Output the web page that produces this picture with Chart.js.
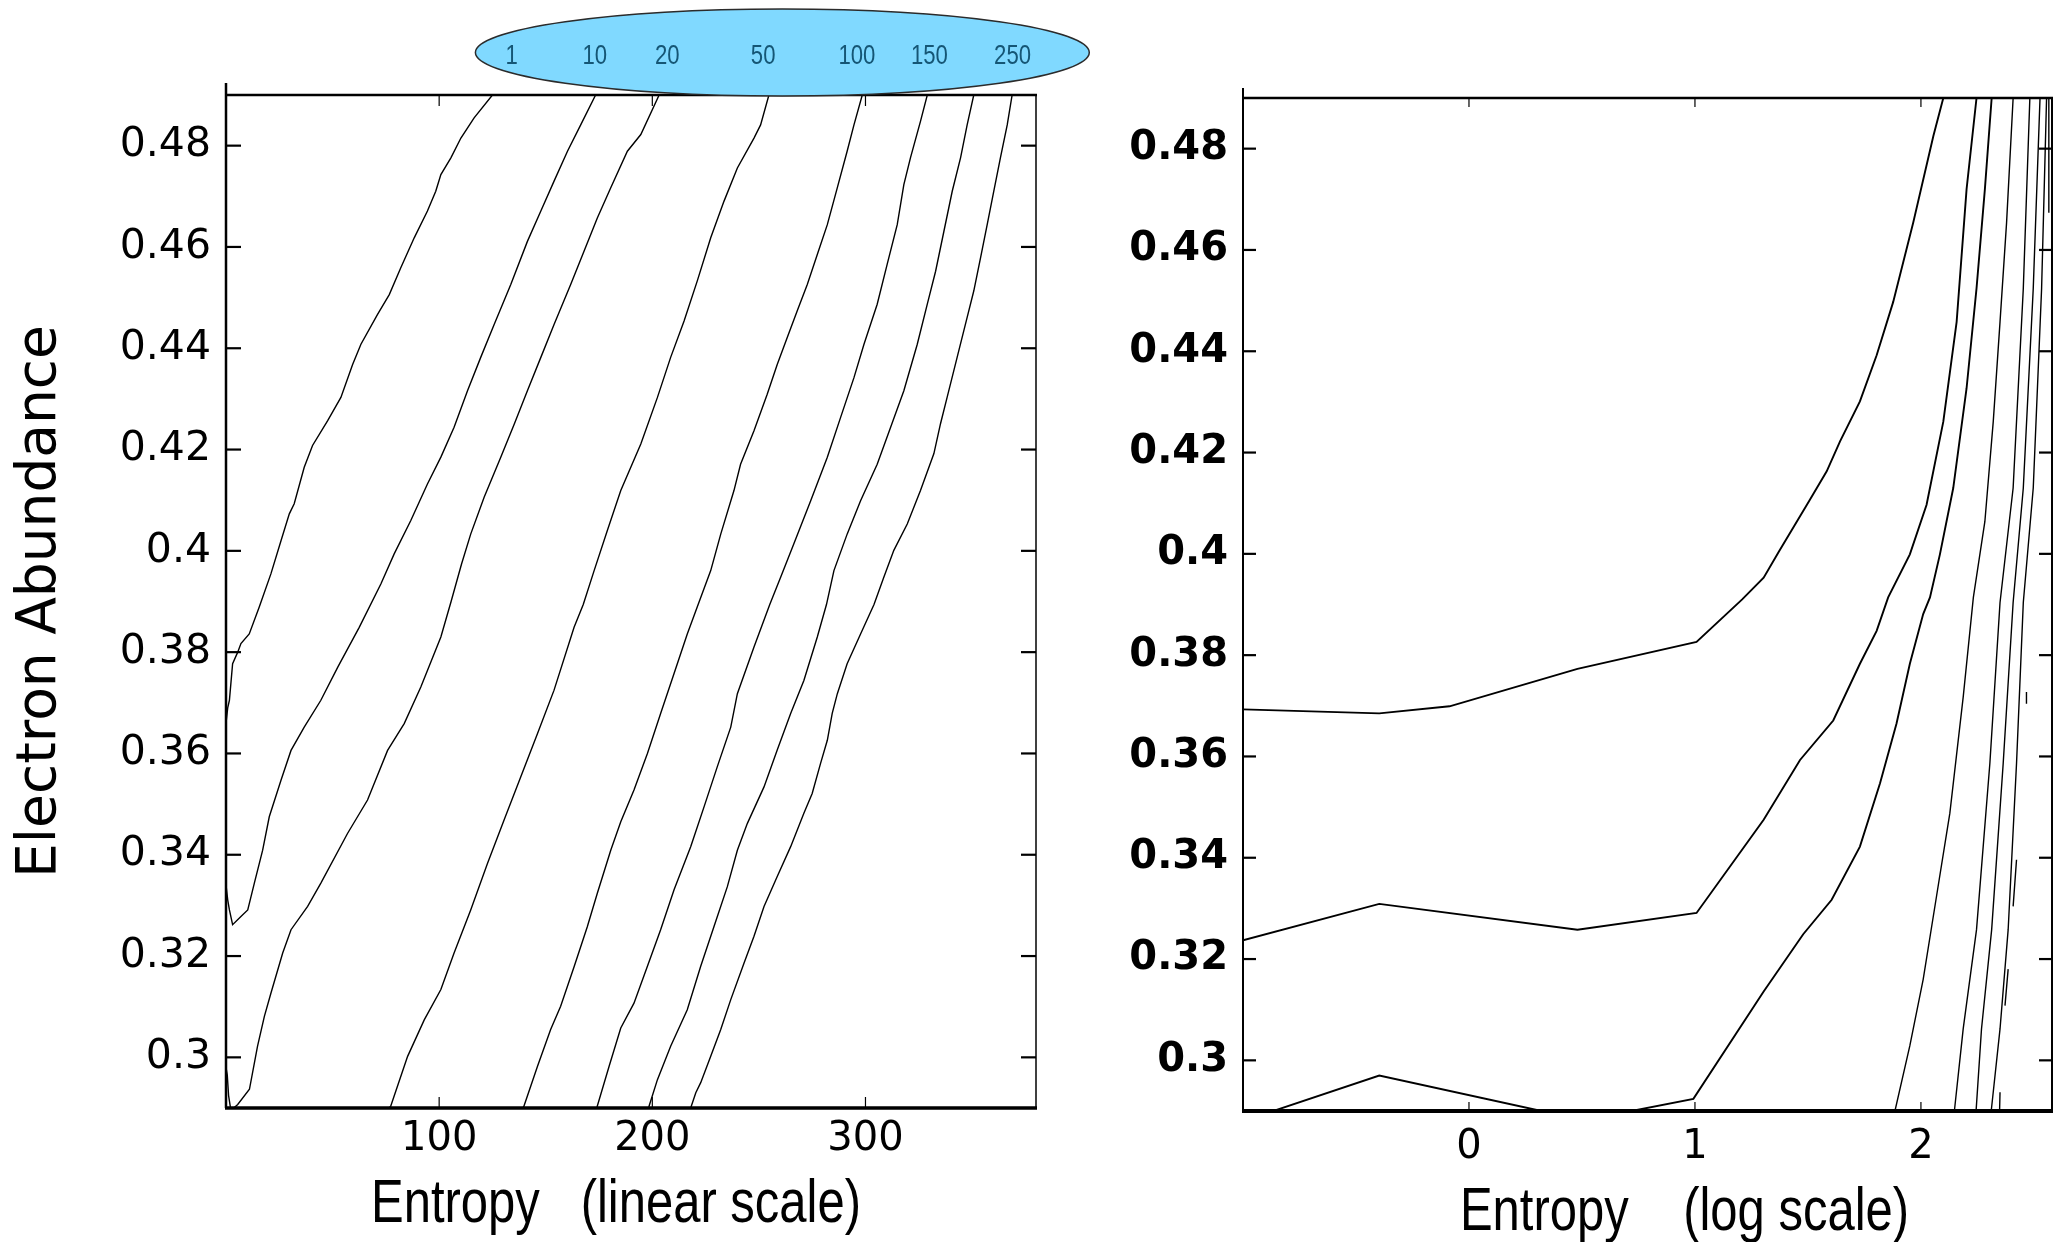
<!DOCTYPE html>
<html>
<head>
<meta charset="utf-8">
<title>Electron abundance vs entropy</title>
<script src="https://cdn.jsdelivr.net/npm/chart.js@4.4.1/dist/chart.umd.min.js"></script>
<style>
  html, body { margin: 0; padding: 0; background: #fff; }
  #wrap { position: relative; width: 2060px; height: 1242px; }
  .panel { position: absolute; top: 0; height: 1242px; }
  #left { left: 0; width: 1100px; }
  #right { left: 1100px; width: 960px; }
</style>
</head>
<body>
<div id="wrap">
  <div class="panel" id="left"><canvas id="linChart"></canvas></div>
  <div class="panel" id="right"><canvas id="logChart"></canvas></div>
</div>
<script>
// tick values
var yTicks = [0.3, 0.32, 0.34, 0.36, 0.38, 0.4, 0.42, 0.44, 0.46, 0.48];
var linTicks = [100, 200, 300];
var logTicks = [0, 1, 2];

// contour labels in the oval, and the entropy where each one sits
var contourLabels = ['1', '10', '20', '50', '100', '150', '250'];
var labelEntropy = [134, 173, 207, 252, 296, 330, 369];

// left panel: contours as [entropy, electron abundance]
var lin1 = [[125, 0.49], [116.4, 0.4855], [110.2, 0.4815], [105.5, 0.4776], [100.8, 0.4743], [98.4, 0.471], [94.5, 0.4671], [88.3, 0.4618], [82.0, 0.4559], [76.6, 0.4506], [71.1, 0.4467], [63.3, 0.4408], [59.4, 0.4368], [53.9, 0.4303], [47.7, 0.4257], [40.6, 0.4208], [36.7, 0.4165], [32.0, 0.4093], [29.7, 0.4073], [25.8, 0.402], [21.1, 0.3955], [15.6, 0.3889], [10.9, 0.3836], [7.0, 0.3817], [5.5, 0.38], [3.1, 0.3777], [1.6, 0.3705], [0.8, 0.369], [0, 0.366]];
var lin2 = [[173.4, 0.49], [166.4, 0.4841], [160.2, 0.4789], [153.9, 0.473], [147.7, 0.4671], [141.4, 0.4611], [133.6, 0.4526], [125.8, 0.4447], [119.5, 0.4382], [113.3, 0.4316], [107.0, 0.4244], [100.8, 0.4185], [94.5, 0.4132], [86.7, 0.406], [78.9, 0.3994], [72.7, 0.3935], [62.5, 0.3849], [52.5, 0.3771], [44.5, 0.3705], [36.7, 0.3652], [30.5, 0.3606], [25.8, 0.3547], [20.3, 0.3475], [17.2, 0.3409], [13.3, 0.3344], [10.2, 0.3291], [7.0, 0.3278], [3.1, 0.3262], [1.6, 0.3291], [0.8, 0.3311], [0, 0.334]];
var lin3 = [[203.2, 0.49], [194.6, 0.4822], [188.3, 0.4789], [180.5, 0.4717], [174.2, 0.4657], [168.0, 0.4592], [161.7, 0.4526], [153.9, 0.4447], [147.7, 0.4382], [141.4, 0.4316], [135.2, 0.425], [128.9, 0.4185], [121.1, 0.4106], [114.8, 0.4033], [110.5, 0.3974], [105.6, 0.39], [100.8, 0.383], [91.4, 0.3731], [83.6, 0.3659], [75.8, 0.3606], [66.4, 0.3508], [57.0, 0.3442], [44.5, 0.3344], [38.3, 0.3298], [30.5, 0.3252], [26.6, 0.3206], [21.1, 0.3127], [18.0, 0.3081], [14.8, 0.3022], [11.0, 0.2937], [5.5, 0.2907], [2.3, 0.2895], [1.2, 0.2925], [0.6, 0.2965], [0, 0.298]];
var lin4 = [[254.7, 0.49], [250.8, 0.4841], [247.7, 0.4815], [239.9, 0.4756], [233.6, 0.469], [227.4, 0.4618], [221.1, 0.4533], [214.9, 0.4454], [208.6, 0.4382], [202.4, 0.4303], [194.6, 0.4211], [185.2, 0.4119], [178.9, 0.404], [172.7, 0.3961], [167.6, 0.3894], [163.3, 0.3849], [153.9, 0.3725], [146.1, 0.3639], [138.3, 0.3554], [130.5, 0.3469], [122.7, 0.3383], [114.8, 0.3291], [107.0, 0.3206], [100.8, 0.3134], [93.0, 0.3074], [85.2, 0.3002], [77.3, 0.2904], [77.0, 0.29]];
var lin5 = [[298.5, 0.49], [294.6, 0.4841], [291.4, 0.4789], [286.8, 0.4717], [282.1, 0.4644], [277.4, 0.4585], [272.7, 0.4526], [268.0, 0.4474], [263.3, 0.4421], [258.6, 0.4368], [253.9, 0.4309], [247.7, 0.4237], [241.4, 0.4171], [238.3, 0.4119], [232.1, 0.4033], [227.4, 0.3961], [221.5, 0.3894], [216.4, 0.3836], [210.2, 0.3758], [203.9, 0.3679], [197.7, 0.36], [191.4, 0.3528], [185.2, 0.3465], [180.5, 0.3409], [174.2, 0.3324], [169.5, 0.3258], [163.3, 0.3179], [157.0, 0.3101], [152.3, 0.3055], [146.1, 0.2982], [139.8, 0.2904], [139.6, 0.29]];
var lin6 = [[329, 0.49], [325.8, 0.4848], [321.1, 0.4776], [318.0, 0.4723], [314.9, 0.4644], [310.2, 0.4566], [305.5, 0.4487], [299.3, 0.4408], [294.6, 0.4342], [288.3, 0.4263], [282.1, 0.4185], [274.3, 0.4099], [266.4, 0.4014], [260.2, 0.3948], [255.1, 0.3894], [247.7, 0.381], [239.9, 0.3718], [236.8, 0.3652], [230.5, 0.3574], [224.3, 0.3495], [218.0, 0.3416], [210.2, 0.3331], [203.9, 0.3252], [197.7, 0.318], [191.4, 0.3107], [185.2, 0.3058], [179.7, 0.2982], [174.2, 0.2904], [174.0, 0.29]];
var lin7 = [[350.8, 0.49], [347.7, 0.4841], [344.6, 0.4776], [340.7, 0.471], [336.8, 0.4631], [332.9, 0.4552], [329.0, 0.4487], [324.3, 0.4408], [318.0, 0.4316], [311.8, 0.4244], [305.5, 0.4171], [297.7, 0.4099], [291.4, 0.4033], [285.2, 0.3961], [281.7, 0.3894], [277.4, 0.383], [271.1, 0.3744], [264.9, 0.3679], [258.6, 0.3607], [252.4, 0.3534], [244.6, 0.3462], [239.9, 0.3409], [235.2, 0.3337], [228.9, 0.3258], [222.7, 0.318], [216.4, 0.3094], [208.6, 0.3022], [202.4, 0.2956], [198.5, 0.2904], [198.3, 0.29]];
var lin8 = [[368.8, 0.49], [366.5, 0.4841], [363.3, 0.4776], [360.2, 0.471], [357.1, 0.4644], [354.0, 0.4579], [350.8, 0.4513], [347.7, 0.4461], [343.0, 0.4382], [338.3, 0.4303], [335.2, 0.4251], [332.1, 0.4192], [325.8, 0.4119], [319.6, 0.4053], [313.3, 0.4001], [308.6, 0.3948], [304.0, 0.3894], [297.7, 0.3836], [291.4, 0.3777], [286.8, 0.3718], [284.4, 0.3679], [282.1, 0.3626], [278.9, 0.358], [275.0, 0.3521], [271.1, 0.3482], [264.9, 0.3416], [258.6, 0.3357], [252.4, 0.3298], [247.7, 0.3239], [243.0, 0.3186], [236.8, 0.3114], [232.1, 0.3055], [227.4, 0.3002], [222.7, 0.295], [220.4, 0.293], [218.0, 0.29]];

// right panel: contours as [log10 entropy, electron abundance]; null = break in the line
var log1 = [[-1.0, 0.3693], [-0.397, 0.3685], [-0.086, 0.3699], [0.48, 0.3773], [1.007, 0.3826], [1.209, 0.391], [1.304, 0.3953], [1.371, 0.4004], [1.506, 0.4105], [1.583, 0.4163], [1.642, 0.4222], [1.73, 0.4301], [1.804, 0.4392], [1.877, 0.4497], [1.966, 0.4654], [2.055, 0.4825], [2.099, 0.49]];
var log2 = [[-1.0, 0.3237], [-0.397, 0.3309], [0.48, 0.3258], [1.007, 0.3291], [1.304, 0.3475], [1.465, 0.3593], [1.612, 0.3671], [1.73, 0.3783], [1.804, 0.3848], [1.855, 0.3914], [1.951, 0.3999], [2.025, 0.4097], [2.099, 0.4261], [2.158, 0.4458], [2.202, 0.472], [2.246, 0.49]];
var log3 = [[-1.0, 0.288], [-0.397, 0.297], [0.32, 0.29], [0.5, 0.2885], [0.72, 0.29], [0.993, 0.2924], [1.304, 0.3136], [1.479, 0.3249], [1.605, 0.3317], [1.73, 0.3422], [1.819, 0.3547], [1.892, 0.3665], [1.951, 0.3783], [2.01, 0.3881], [2.04, 0.3914], [2.084, 0.3999], [2.143, 0.413], [2.202, 0.4327], [2.246, 0.4524], [2.283, 0.472], [2.313, 0.49]];
var log4 = [[1.885, 0.29], [1.951, 0.3029], [2.01, 0.316], [2.069, 0.3324], [2.128, 0.3488], [2.187, 0.3717], [2.232, 0.3914], [2.283, 0.4064], [2.32, 0.4261], [2.35, 0.4458], [2.379, 0.4654], [2.408, 0.49]];
var log5 = [[2.148, 0.29], [2.187, 0.3062], [2.246, 0.3258], [2.305, 0.3586], [2.35, 0.3904], [2.408, 0.413], [2.453, 0.4524], [2.482, 0.49]];
var log6 = [[2.244, 0.29], [2.268, 0.3062], [2.313, 0.3258], [2.364, 0.3586], [2.408, 0.3904], [2.453, 0.413], [2.497, 0.4524], [2.527, 0.49]];
var log7 = [[2.311, 0.29], [2.35, 0.3062], [2.386, 0.3258], [2.423, 0.3586], [2.453, 0.3904], [2.497, 0.413], [2.534, 0.4524], [2.556, 0.49]];
var log8 = [[2.348, 0.29], [2.35, 0.2937], null, [2.372, 0.3108], [2.386, 0.318], null, [2.408, 0.3304], [2.423, 0.3396], null, [2.467, 0.3704], [2.467, 0.3727], null, [2.563, 0.4675], [2.566, 0.49]];

var sans = '"Liberation Sans", Arial, sans-serif';

function toPoints(arr) {
    var out = [];
    arr.forEach(function (p, i) {
        if (p === null) out.push({ x: arr[i - 1][0], y: null });
        else out.push({ x: p[0], y: p[1] });
    });
    return out;
}

function contour(arr, width) {
    return {
        data: toPoints(arr),
        showLine: true,
        borderColor: '#000',
        borderWidth: width,
        pointRadius: 0,
        fill: false,
        tension: 0,
        spanGaps: false
    };
}

// box round the plot with inward ticks on all four sides
var framePlugin = {
    id: 'frame',
    afterDraw: function (chart, args, o) {
        var ctx = chart.ctx, a = chart.chartArea;
        var xs = chart.scales.x, ys = chart.scales.y;
        function seg(x1, y1, x2, y2) {
            ctx.beginPath();
            ctx.moveTo(x1, y1);
            ctx.lineTo(x2, y2);
            ctx.stroke();
        }
        ctx.save();
        ctx.strokeStyle = '#000';
        ctx.lineWidth = o.yTickW;
        ys.ticks.forEach(function (t) {
            var py = ys.getPixelForValue(t.value);
            seg(a.left, py, a.left + o.yTick, py);
            seg(a.right, py, a.right - o.yTick, py);
        });
        ctx.lineWidth = o.xTickW;
        xs.ticks.forEach(function (t) {
            var px = xs.getPixelForValue(t.value);
            seg(px, a.bottom, px, a.bottom - o.xTick);
            seg(px, a.top, px, a.top + o.xTick);
        });
        ctx.lineWidth = o.w.top;
        seg(a.left - 1, a.top, a.right + 1, a.top);
        ctx.lineWidth = o.w.bottom;
        seg(a.left - 1, a.bottom, a.right + 1, a.bottom);
        ctx.lineWidth = o.w.left;
        seg(a.left, a.top - o.stub, a.left, a.bottom);
        ctx.lineWidth = o.w.right;
        seg(a.right, a.top, a.right, a.bottom);

        // x-axis title in a narrow face (squeezed Liberation Sans)
        ctx.fillStyle = '#000';
        ctx.font = o.titleSize + 'px ' + sans;
        ctx.textAlign = 'center';
        ctx.textBaseline = 'alphabetic';
        ctx.translate((a.left + a.right) / 2 + o.titleShift, a.bottom + o.titleDrop);
        ctx.scale(o.squeeze, 1);
        ctx.fillText(o.title, 0, 0);
        ctx.restore();
    }
};

// blue oval with the contour labels above the left panel
var ovalPlugin = {
    id: 'oval',
    afterDraw: function (chart, args, o) {
        var ctx = chart.ctx, xs = chart.scales.x;
        var x0 = xs.getPixelForValue(o.from), x1 = xs.getPixelForValue(o.to);
        var top = o.top, bottom = chart.chartArea.top + 1;
        ctx.save();
        ctx.beginPath();
        ctx.ellipse((x0 + x1) / 2, (top + bottom) / 2, (x1 - x0) / 2, (bottom - top) / 2, 0, 0, Math.PI * 2);
        ctx.fillStyle = '#80d9ff';
        ctx.fill();
        ctx.lineWidth = 1.5;
        ctx.strokeStyle = '#2b2b2b';
        ctx.stroke();
        ctx.fillStyle = '#155675';
        ctx.font = '27px ' + sans;
        ctx.textAlign = 'center';
        ctx.textBaseline = 'middle';
        contourLabels.forEach(function (txt, i) {
            ctx.save();
            ctx.translate(xs.getPixelForValue(labelEntropy[i]), o.textY);
            ctx.scale(0.82, 1);
            ctx.fillText(txt, 0, 0);
            ctx.restore();
        });
        ctx.restore();
    }
};

function yAxis(width, pad, bold, size, title) {
    return {
        type: 'linear',
        position: 'left',
        min: 0.29,
        max: 0.49,
        grid: { display: false, drawTicks: false },
        border: { display: false },
        afterBuildTicks: function (s) { s.ticks = yTicks.map(function (v) { return { value: v }; }); },
        afterFit: function (s) { s.width = width; },
        ticks: {
            padding: pad,
            color: '#000',
            autoSkip: false,
            font: { family: '"DejaVu Sans", sans-serif', size: size, weight: bold ? 'bold' : 'normal', lineHeight: 1 },
            callback: function (v) { return String(v); }
        },
        title: title
    };
}

function xAxis(min, max, ticks, height, pad) {
    return {
        type: 'linear',
        position: 'bottom',
        min: min,
        max: max,
        grid: { display: false, drawTicks: false },
        border: { display: false },
        afterBuildTicks: function (s) { s.ticks = ticks.map(function (v) { return { value: v }; }); },
        afterFit: function (s) { s.height = height; },
        ticks: {
            padding: pad,
            color: '#000',
            autoSkip: false,
            maxRotation: 0,
            minRotation: 0,
            font: { family: '"DejaVu Sans", sans-serif', size: 40, lineHeight: 1 },
            callback: function (v) { return String(v); }
        },
        title: { display: false }
    };
}

new Chart(document.getElementById('linChart'), {
    type: 'scatter',
    data: {
        datasets: [lin1, lin2, lin3, lin4, lin5, lin6, lin7, lin8].map(function (c) { return contour(c, 1.4); })
    },
    options: {
        responsive: true,
        maintainAspectRatio: false,
        animation: false,
        events: [],
        layout: { padding: { top: 95, right: 64, bottom: 0, left: 0 } },
        plugins: {
            legend: { display: false },
            tooltip: { enabled: false },
            frame: {
                w: { top: 2.5, right: 1.5, bottom: 3.5, left: 2.5 }, yTick: 15, xTick: 11, yTickW: 2.2, xTickW: 1.2, stub: 12,
                title: 'Entropy   (linear scale)', titleSize: 62, squeeze: 0.79, titleShift: -15, titleDrop: 114
            },
            oval: { from: 117, to: 405, top: 9, textY: 57 }
        },
        scales: {
            x: xAxis(0, 380, linTicks, 134, 12),
            y: yAxis(226, 15, false, 41, {
                display: true,
                text: 'Electron Abundance',
                color: '#000',
                font: { family: '"DejaVu Sans", sans-serif', size: 55, lineHeight: 1.2 },
                padding: { top: 8, bottom: 0 }
            })
        }
    },
    plugins: [framePlugin, ovalPlugin]
});

var logSets = [log1, log2, log3].map(function (c) { return contour(c, 1.9); })
    .concat([log4, log5, log6, log7, log8].map(function (c) { return contour(c, 1.4); }));

new Chart(document.getElementById('logChart'), {
    type: 'scatter',
    data: { datasets: logSets },
    options: {
        responsive: true,
        maintainAspectRatio: false,
        animation: false,
        events: [],
        layout: { padding: { top: 98, right: 8, bottom: 0, left: 0 } },
        plugins: {
            legend: { display: false },
            tooltip: { enabled: false },
            frame: {
                w: { top: 2.5, right: 2, bottom: 4, left: 2 }, yTick: 13, xTick: 9, yTickW: 2.2, xTickW: 1.2, stub: 10,
                title: 'Entropy    (log scale)', titleSize: 62, squeeze: 0.79, titleShift: 37, titleDrop: 119
            }
        },
        scales: {
            x: xAxis(-1, 2.58, logTicks, 131, 17),
            y: yAxis(143, 15, true, 40, { display: false })
        }
    },
    plugins: [framePlugin]
});
</script>
</body>
</html>
